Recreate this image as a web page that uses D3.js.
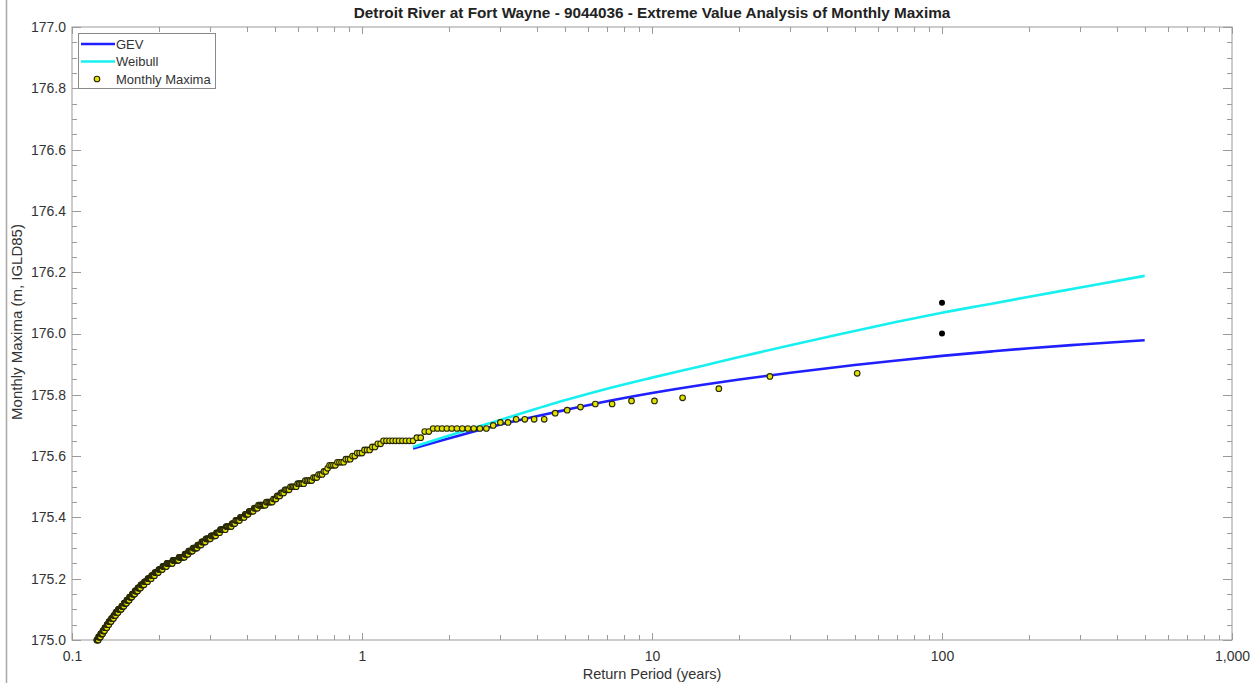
<!DOCTYPE html>
<html>
<head>
<meta charset="utf-8">
<script src="https://cdn.jsdelivr.net/npm/d3@7"></script>
<style>
  html, body { margin: 0; padding: 0; background: #fff; }
  svg { display: block; font-family: "Liberation Sans", Arial, Helvetica, sans-serif; }
</style>
</head>
<body>
<svg id="chart" width="1256" height="683"></svg>
<script>
// Monthly maxima water levels (m, IGLD85), highest first, with the number of months at each level
const levels = [
  175.87, 175.86, 175.82, 175.79, 175.78, 175.77, 175.76, 175.75, 175.74, 175.72,
  175.71, 175.70, 175.69, 175.68, 175.66, 175.65, 175.64, 175.63, 175.62, 175.61,
  175.60, 175.59, 175.58, 175.57, 175.56, 175.55, 175.54, 175.53, 175.52, 175.51,
  175.50, 175.49, 175.48, 175.47, 175.46, 175.45, 175.44, 175.43, 175.42, 175.41,
  175.40, 175.39, 175.38, 175.37, 175.36, 175.35, 175.34, 175.33, 175.32, 175.31,
  175.30, 175.29, 175.28, 175.27, 175.26, 175.25, 175.24, 175.23, 175.22, 175.21,
  175.20, 175.19, 175.18, 175.17, 175.16, 175.15, 175.14, 175.13, 175.12, 175.11,
  175.10, 175.09, 175.08, 175.07, 175.06, 175.05, 175.04, 175.03, 175.02, 175.01,
  175.00
];
const counts = [
  1, 1, 1, 1, 2, 2, 1, 1, 1, 4,
  2, 1, 11, 2, 2, 10, 2, 2, 3, 3,
  2, 3, 4, 4, 1, 2, 3, 3, 5, 5,
  5, 4, 3, 3, 3, 6, 7, 4, 5, 4,
  5, 5, 4, 7, 7, 5, 7, 7, 6, 6,
  7, 7, 6, 10, 11, 11, 8, 8, 8, 7,
  8, 8, 8, 7, 7, 7, 7, 7, 7, 7,
  9, 7, 6, 7, 7, 6, 7, 6, 7, 7,
  6
];
// Length of the monthly record used for the plotting positions
const recordMonths = 611;

// Fitted return level curves
const fitPeriods = [1.5, 2, 3, 5, 7, 10, 15, 20, 30, 50, 70, 100, 150, 200, 300, 500];
const gevLevels = [175.625, 175.658, 175.703, 175.750, 175.779, 175.806, 175.833, 175.850,
                   175.872, 175.897, 175.912, 175.927, 175.942, 175.952, 175.964, 175.978];
const weibullLevels = [175.630, 175.667, 175.718, 175.782, 175.820, 175.856, 175.895, 175.923,
                       175.962, 176.008, 176.038, 176.068, 176.098, 176.120, 176.150, 176.188];

// 100-year reference levels
const refPeriod = [100, 100];
const refLevels = [176.1, 176.0];

const xTickValues = [0.1, 1, 10, 100, 1000];
const xTickLabels = ["0.1", "1", "10", "100", "1,000"];
const yTickValues = [175.0, 175.2, 175.4, 175.6, 175.8, 176.0, 176.2, 176.4, 176.6, 176.8, 177.0];

const titleText = "Detroit River at Fort Wayne - 9044036 - Extreme Value Analysis of Monthly Maxima";
const xLabelText = "Return Period (years)";
const yLabelText = "Monthly Maxima (m, IGLD85)";

// ---- layout ----
const L = 72, R = 1232, T = 27, B = 640;
const axisColor = "#9a9a9a";
const textColor = "#333";
const markerFill = "#e2e200", markerEdge = "#262606";

const svg = d3.select("#chart");

// figure edge on the left
svg.append("line")
  .attr("x1", 6.5).attr("x2", 6.5).attr("y1", 0).attr("y2", 683)
  .attr("stroke", "#a8a8a8").attr("stroke-width", 1.5);

const x = d3.scaleLog().domain([0.1, 1000]).range([L, R]);
const y = d3.scaleLinear().domain([175, 177]).range([B, T]);

// expand level/count pairs into ranked points
const points = [];
let rank = 0;
levels.forEach((lv, i) => {
  for (let k = 0; k < counts[i]; k++) {
    rank += 1;
    points.push({ period: (recordMonths + 1) / (12 * rank), level: lv });
  }
});

svg.append("defs").append("clipPath").attr("id", "plotArea")
  .append("rect").attr("x", L).attr("y", T).attr("width", R - L).attr("height", B - T);

// axes box
svg.append("rect")
  .attr("x", L).attr("y", T).attr("width", R - L).attr("height", B - T)
  .attr("fill", "#fff").attr("stroke", axisColor).attr("stroke-width", 1);

// ---- ticks ----
const xMinor = [];
for (let e = -1; e < 3; e++) {
  for (let m = 2; m <= 9; m++) xMinor.push(m * Math.pow(10, e));
}
const xMajorLen = 7, xMinorLen = 5;
const tickG = svg.append("g").attr("stroke", axisColor).attr("stroke-width", 1);
xTickValues.forEach(v => {
  const px = Math.round(x(v)) + 0.5;
  tickG.append("line").attr("x1", px).attr("x2", px).attr("y1", B).attr("y2", B - xMajorLen);
  tickG.append("line").attr("x1", px).attr("x2", px).attr("y1", T).attr("y2", T + xMajorLen);
});
xMinor.forEach(v => {
  const px = Math.round(x(v)) + 0.5;
  tickG.append("line").attr("x1", px).attr("x2", px).attr("y1", B).attr("y2", B - xMinorLen);
  tickG.append("line").attr("x1", px).attr("x2", px).attr("y1", T).attr("y2", T + xMinorLen);
});
const yMinor = d3.range(175.05, 177, 0.05).filter(v => Math.abs(v * 5 - Math.round(v * 5)) > 1e-6);
yTickValues.forEach(v => {
  const py = Math.round(y(v)) + 0.5;
  tickG.append("line").attr("x1", L).attr("x2", L + 9).attr("y1", py).attr("y2", py);
  tickG.append("line").attr("x1", R).attr("x2", R - 9).attr("y1", py).attr("y2", py);
});
yMinor.forEach(v => {
  const py = Math.round(y(v)) + 0.5;
  tickG.append("line").attr("x1", L).attr("x2", L + 5).attr("y1", py).attr("y2", py);
  tickG.append("line").attr("x1", R).attr("x2", R - 5).attr("y1", py).attr("y2", py);
});

// tick labels
const xAxis = d3.axisBottom(x).tickValues(xTickValues)
  .tickFormat((d, i) => xTickLabels[i]).tickSize(0).tickPadding(11);
const gx = svg.append("g").attr("transform", `translate(0,${B})`).call(xAxis);
gx.select(".domain").remove();
gx.selectAll("text").attr("fill", textColor).style("font-size", "14px")
  .style("font-family", "'Liberation Sans', Arial, sans-serif");

const yAxis = d3.axisLeft(y).tickValues(yTickValues).tickFormat(d3.format(".1f"))
  .tickSize(0).tickPadding(6);
const gy = svg.append("g").attr("transform", `translate(${L},0)`).call(yAxis);
gy.select(".domain").remove();
gy.selectAll("text").attr("fill", textColor).style("font-size", "14px")
  .style("font-family", "'Liberation Sans', Arial, sans-serif");

// ---- data ----
const plot = svg.append("g").attr("clip-path", "url(#plotArea)");
const line = d3.line().x(d => x(d[0])).y(d => y(d[1])).curve(d3.curveMonotoneX);

plot.append("path")
  .datum(fitPeriods.map((p, i) => [p, gevLevels[i]]))
  .attr("d", line).attr("fill", "none")
  .attr("stroke", "#1f1fff").attr("stroke-width", 2.6);

plot.append("path")
  .datum(fitPeriods.map((p, i) => [p, weibullLevels[i]]))
  .attr("d", line).attr("fill", "none")
  .attr("stroke", "#18f0f0").attr("stroke-width", 2.6);

svg.append("g").selectAll("circle").data(points.slice().reverse()).join("circle")
  .attr("cx", d => x(d.period)).attr("cy", d => y(d.level)).attr("r", 2.8)
  .attr("fill", markerFill).attr("stroke", markerEdge).attr("stroke-width", 1.1);

svg.append("g").selectAll("circle").data(refLevels).join("circle")
  .attr("cx", (d, i) => x(refPeriod[i])).attr("cy", d => y(d)).attr("r", 3)
  .attr("fill", "#000");

// ---- title and labels ----
svg.append("text").attr("x", 652).attr("y", 18).attr("text-anchor", "middle")
  .attr("fill", "#222").style("font-size", "15.3px").style("font-weight", "bold")
  .text(titleText);

svg.append("text").attr("x", 652).attr("y", 679).attr("text-anchor", "middle")
  .attr("fill", textColor).style("font-size", "14.5px").text(xLabelText);

svg.append("text").attr("transform", `translate(22,322) rotate(-90)`).attr("text-anchor", "middle")
  .attr("fill", textColor).style("font-size", "15px").text(yLabelText);

// ---- legend ----
const lg = svg.append("g").attr("transform", "translate(78,33)");
lg.append("rect").attr("x", 0.5).attr("y", 0.5).attr("width", 137).attr("height", 55)
  .attr("fill", "#fff").attr("stroke", "#8a8a8a").attr("stroke-width", 1);
const legendItems = [
  { label: "GEV", type: "line", color: "#1f1fff" },
  { label: "Weibull", type: "line", color: "#18f0f0" },
  { label: "Monthly Maxima", type: "marker" }
];
legendItems.forEach((it, i) => {
  const cy = 11 + i * 17.5;
  if (it.type === "line") {
    lg.append("line").attr("x1", 3).attr("x2", 37).attr("y1", cy).attr("y2", cy)
      .attr("stroke", it.color).attr("stroke-width", 2.6);
  } else {
    lg.append("circle").attr("cx", 19).attr("cy", cy).attr("r", 2.8)
      .attr("fill", markerFill).attr("stroke", markerEdge).attr("stroke-width", 1.1);
  }
  lg.append("text").attr("x", 38).attr("y", cy + 4.5).attr("fill", textColor)
    .style("font-size", "13px").text(it.label);
});
</script>
</body>
</html>
